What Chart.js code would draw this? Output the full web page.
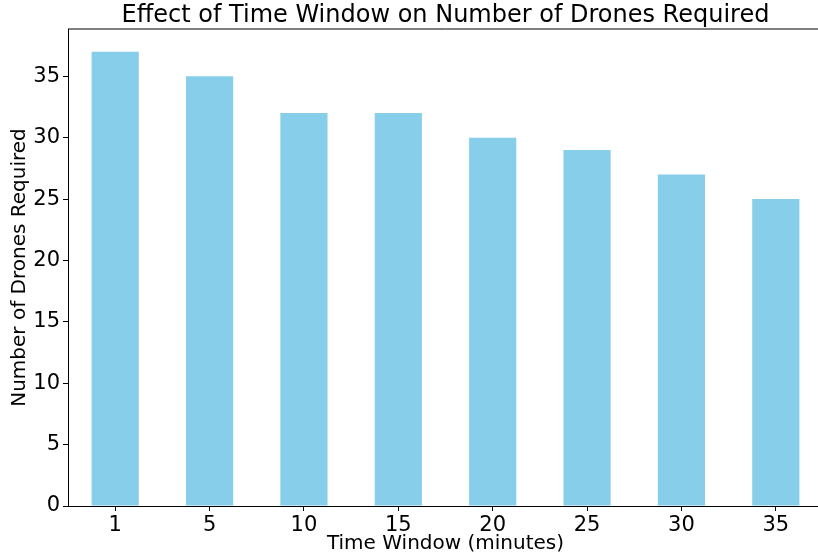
<!DOCTYPE html>
<html>
<head>
<meta charset="utf-8">
<script src="https://cdn.jsdelivr.net/npm/chart.js@4/dist/chart.umd.min.js"></script>
<style>
    html, body { margin: 0; padding: 0; background: #fff; overflow: hidden; }
    #wrap { width: 818px; height: 556px; overflow: hidden; }
    #box { width: 823px; height: 556px; }
</style>
</head>
<body>
<div id="wrap"><div id="box"><canvas id="dronesChart"></canvas></div></div>
<script>
const timeWindows = ['1', '5', '10', '15', '20', '25', '30', '35'];
const dronesRequired = [37, 35, 32, 32, 30, 29, 27, 25];
const yTicks = [0, 5, 10, 15, 20, 25, 30, 35];

const chartTitle = 'Effect of Time Window on Number of Drones Required';
const fontFamily = "'DejaVu Sans', sans-serif";

// title centred over the plot area + top spine, like matplotlib
const framePlugin = {
    id: 'frame',
    afterDraw(chart) {
        const { ctx, chartArea } = chart;
        ctx.save();
        ctx.strokeStyle = '#000';
        ctx.lineWidth = 1;
        ctx.beginPath();
        ctx.moveTo(chartArea.left, chartArea.top);
        ctx.lineTo(chartArea.right, chartArea.top);
        ctx.stroke();
        ctx.fillStyle = '#000';
        ctx.font = `24px ${fontFamily}`;
        ctx.textAlign = 'center';
        ctx.textBaseline = 'middle';
        ctx.fillText(chartTitle, (chartArea.left + chartArea.right) / 2, 16);
        ctx.restore();
    }
};

const ctx = document.getElementById('dronesChart').getContext('2d');
new Chart(ctx, {
    type: 'bar',
    data: {
        labels: timeWindows,
        datasets: [{
            label: 'Number of Drones Required',
            data: dronesRequired,
            backgroundColor: '#87CEEB',
            borderWidth: 0,
            categoryPercentage: 1,
            barPercentage: 0.5
        }]
    },
    options: {
        responsive: true,
        maintainAspectRatio: false,
        animation: false,
        layout: { padding: { top: 29, right: 0, left: 0, bottom: 0 } },
        plugins: {
            legend: { display: false },
            title: { display: false },
            tooltip: { enabled: false }
        },
        scales: {
            x: {
                offset: true,
                grid: { display: true, offset: false, drawOnChartArea: false, tickLength: 5, tickColor: '#000', tickWidth: 1 },
                border: { display: true, color: '#000', width: 1 },
                ticks: { color: '#000', padding: 2, font: { family: fontFamily, size: 21 } },
                title: {
                    display: true,
                    text: 'Time Window (minutes)',
                    color: '#000',
                    font: { family: fontFamily, size: 20, lineHeight: 1.2 },
                    padding: { top: 0, bottom: 0 }
                },
                afterFit: (scale) => { scale.height = 50; }
            },
            y: {
                min: 0,
                max: 38.85,
                grid: { display: true, drawOnChartArea: false, tickLength: 5, tickColor: '#000', tickWidth: 1 },
                border: { display: true, color: '#000', width: 1 },
                ticks: { stepSize: 5, color: '#000', padding: 3, font: { family: fontFamily, size: 21 } },
                afterBuildTicks: (scale) => {
                    scale.ticks = yTicks.map(v => ({ value: v }));
                },
                title: {
                    display: true,
                    text: 'Number of Drones Required',
                    color: '#000',
                    font: { family: fontFamily, size: 20, lineHeight: 1.2 },
                    padding: { top: 8, bottom: 0 }
                },
                afterFit: (scale) => { scale.width = 68; }
            }
        }
    },
    plugins: [framePlugin]
});
</script>
</body>
</html>
